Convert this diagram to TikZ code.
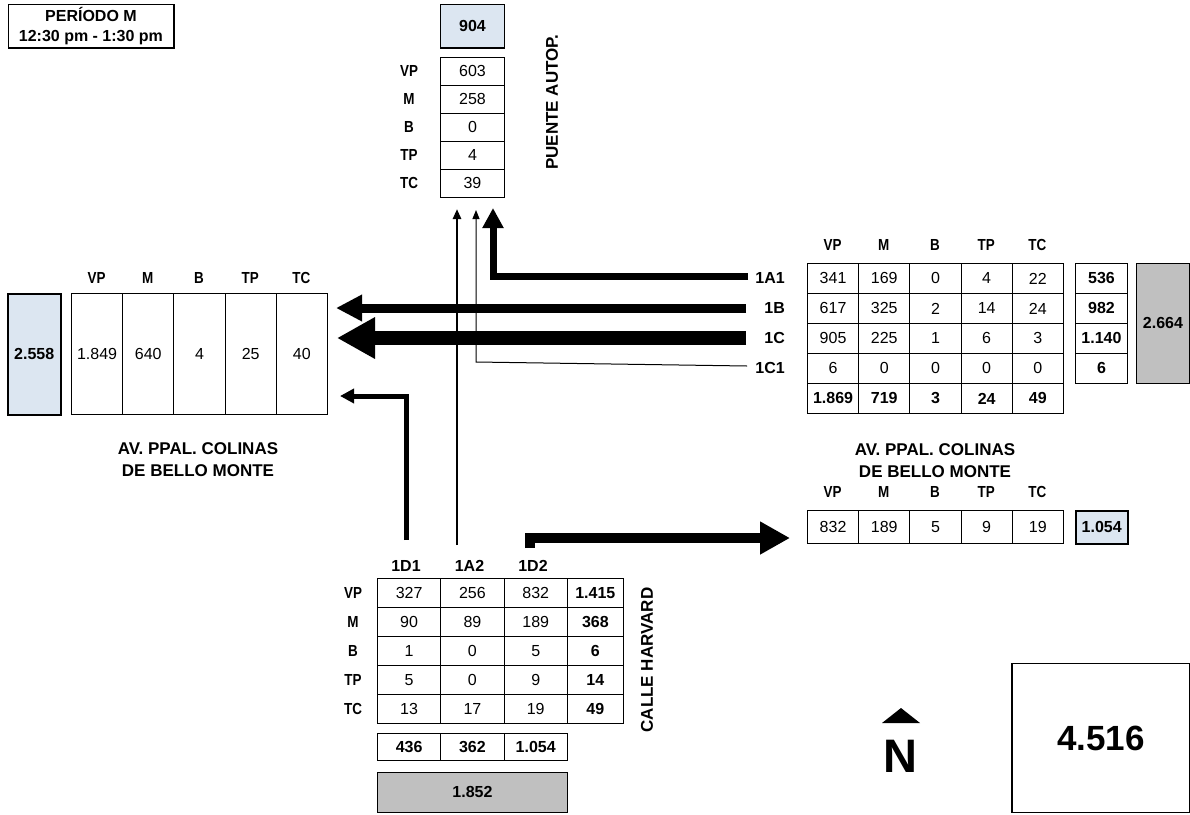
\documentclass[tikz,border=0pt]{standalone}
\usepackage{fontspec}
\setmainfont{Liberation Sans}
\newfontfamily\narrowfont[FakeStretch=0.84]{Liberation Sans}
\usetikzlibrary{arrows.meta,positioning,calc}
\definecolor{totblue}{HTML}{DCE6F1}
\definecolor{totgrey}{HTML}{C0C0C0}
\newcommand{\cellfont}{\fontsize{16}{18}\selectfont}
\newcommand{\hdrfont}{\narrowfont\fontsize{16}{18}\selectfont\bfseries}
\newcommand{\streetfont}{\fontsize{17}{22}\selectfont\bfseries}

\begin{document}
\begin{tikzpicture}[x=1pt,y=-1pt,line join=miter,
 cell/.style={draw,line width=0.9pt,inner sep=0pt,anchor=north west,font=\cellfont},
 tot/.style={cell,font=\cellfont\bfseries},
 hdr/.style={font=\hdrfont,inner sep=1pt},
 flowlbl/.style={font=\cellfont\bfseries,anchor=east,inner sep=1pt},
 street/.style={font=\streetfont,align=center}]
\useasboundingbox (0,0) rectangle (1190,814);

\node[draw,line width=0.9pt,anchor=north west,minimum width=165pt,minimum height=43pt,inner sep=0pt,align=center,font=\fontsize{16}{20}\selectfont\bfseries] (period) at (8,4) {PERÍODO M\\12:30 pm - 1:30 pm};
\draw[line width=2pt] (period.south west) -- (period.south east) -- (period.north east);

\node[tot,minimum width=64pt,minimum height=43pt,fill=totblue] (n-tot) at (440,4) {904};
\draw[line width=2pt] (n-tot.south west) -- (n-tot.south east);
\foreach \lab/\v [count=\r] in {VP/603,M/258,B/0,TP/4,TC/39} {
 \node[cell,minimum width=64pt,minimum height=28pt] (n-\r) at (440,{57+(\r-1)*28}) {\v};
 \node[hdr] (nh-\r) at (409,{71+(\r-1)*28}) {\lab};
}
\node[street,rotate=90] (puente) at (552,102) {PUENTE AUTOP.};

\node[tot,minimum width=53pt,minimum height=121pt,fill=totblue,line width=1.5pt] (w-tot) at (7,293) {2.558};
\foreach \lab/\v [count=\c] in {VP/1.849,M/640,B/4,TP/25,TC/40} {
 \node[cell,minimum width=51.2pt,minimum height=121pt] (w-\c) at ({71+(\c-1)*51.2},293) {\v};
 \node[hdr] (wh-\c) at ({96.6+(\c-1)*51.2},278) {\lab};
}
\node[street] (west) at (198,460) {AV. PPAL. COLINAS\\DE BELLO MONTE};

\foreach \lab [count=\c] in {VP,M,B,TP,TC}
 \node[hdr] (eh-\c) at ({832.6+(\c-1)*51.2},245) {\lab};
\foreach \vals [count=\r] in {{341,169,0,4,22},{617,325,2,14,24},{905,225,1,6,3},{6,0,0,0,0}}
 \foreach \v [count=\c] in \vals
  \node[cell,minimum width=51.2pt,minimum height=30pt] (e-\r-\c) at ({807+(\c-1)*51.2},{263+(\r-1)*30}) {\v};
\foreach \v [count=\c] in {1.869,719,3,24,49}
 \node[tot,minimum width=51.2pt,minimum height=30pt] (e-5-\c) at ({807+(\c-1)*51.2},383) {\v};
\foreach \v [count=\r] in {536,982,1.140,6}
 \node[tot,minimum width=52pt,minimum height=30pt] (es-\r) at (1075,{263+(\r-1)*30}) {\v};
\node[tot,minimum width=53pt,minimum height=120pt,fill=totgrey] (e-tot) at (1136,263) {2.664};
\foreach \lab [count=\r] in {1A1,1B,1C,1C1}
 \node[flowlbl] (f\lab) at (786,{278+(\r-1)*30}) {\lab};

\node[street] (east) at (935,461) {AV. PPAL. COLINAS\\DE BELLO MONTE};
\foreach \lab/\v [count=\c] in {VP/832,M/189,B/5,TP/9,TC/19} {
 \node[hdr] (xh-\c) at ({832.6+(\c-1)*51.2},492) {\lab};
 \node[cell,minimum width=51.2pt,minimum height=33pt] (x-\c) at ({807+(\c-1)*51.2},510) {\v};
}
\node[tot,minimum width=52pt,minimum height=33pt,fill=totblue,line width=1.5pt] (x-tot) at (1075,510) {1.054};

\foreach \lab [count=\c] in {1D1,1A2,1D2}
 \node[flowlbl,anchor=center] (f\lab) at ({406+(\c-1)*63.5},566) {\lab};
\foreach \lab/\nA/\nB/\nC/\nS [count=\r] in {VP/327/256/832/1.415,M/90/89/189/368,B/1/0/5/6,TP/5/0/9/14,TC/13/17/19/49} {
 \node[hdr] (sh-\r) at (353,{592.5+(\r-1)*29}) {\lab};
 \node[cell,minimum width=63.3pt,minimum height=29pt] (s-\r-1) at (377,{578+(\r-1)*29}) {\nA};
 \node[cell,minimum width=63.3pt,minimum height=29pt] (s-\r-2) at (440.3,{578+(\r-1)*29}) {\nB};
 \node[cell,minimum width=63.3pt,minimum height=29pt] (s-\r-3) at (503.6,{578+(\r-1)*29}) {\nC};
 \node[tot,minimum width=56pt,minimum height=29pt] (s-\r-4) at (566.9,{578+(\r-1)*29}) {\nS};
}
\foreach \v [count=\c] in {436,362,1.054}
 \node[tot,minimum width=63.3pt,minimum height=27pt] (st-\c) at ({377+(\c-1)*63.3},733) {\v};
\node[tot,minimum width=190pt,minimum height=40pt,fill=totgrey] (s-tot) at (377,772) {1.852};
\node[street,rotate=90] (harvard) at (647,660) {CALLE HARVARD};

\fill (882,723) -- (920,723) -- (901,708) -- cycle;
\node[font=\fontsize{47}{47}\selectfont\bfseries] (north) at (900,756) {N};
\node[draw,line width=1pt,anchor=north west,minimum width=177pt,minimum height=149pt,font=\fontsize{35}{35}\selectfont\bfseries] (grand) at (1012,663) {4.516};
\draw[line width=2.5pt] (grand.north west) -- (grand.south west);

\coordinate (a1A1) at (748,276);
\coordinate (u1A1) at (493,208);
\coordinate (a1B) at (746,308);
\coordinate (w1B) at (336,308);
\coordinate (a1C) at (746,338);
\coordinate (w1C) at (337,338);
\coordinate (a1C1) at (747,366);
\coordinate (b1C1) at (476,362);
\coordinate (u1C1) at (476,210);
\coordinate (a1A2) at (457,545);
\coordinate (u1A2) at (457,209);
\coordinate (a1D1) at (406,540);
\coordinate (w1D1) at (340,396);
\coordinate (a1D2) at (530,548);
\coordinate (e1D2) at (790,538);
\draw[line width=7pt,-{Triangle[length=20pt,width=20pt]}] (a1A1) -| (u1A1);
\draw[line width=9pt,-{Triangle[length=26pt,width=25pt]}] (a1B) -- (w1B);
\draw[line width=14pt,-{Triangle[length=38pt,width=39pt]}] (a1C) -- (w1C);
\draw[line width=1pt,-{Triangle[length=9pt,width=7pt]}] (a1C1) -- (b1C1) -- (u1C1);
\draw[line width=2.5pt,-{Triangle[length=10pt,width=8pt]}] (a1A2) -- (u1A2);
\draw[line width=5pt,-{Triangle[length=14pt,width=14pt]}] (a1D1) |- (w1D1);
\draw[line width=10pt,-{Triangle[length=30pt,width=31pt]}] (a1D2) |- (e1D2);
\end{tikzpicture}
\end{document}
